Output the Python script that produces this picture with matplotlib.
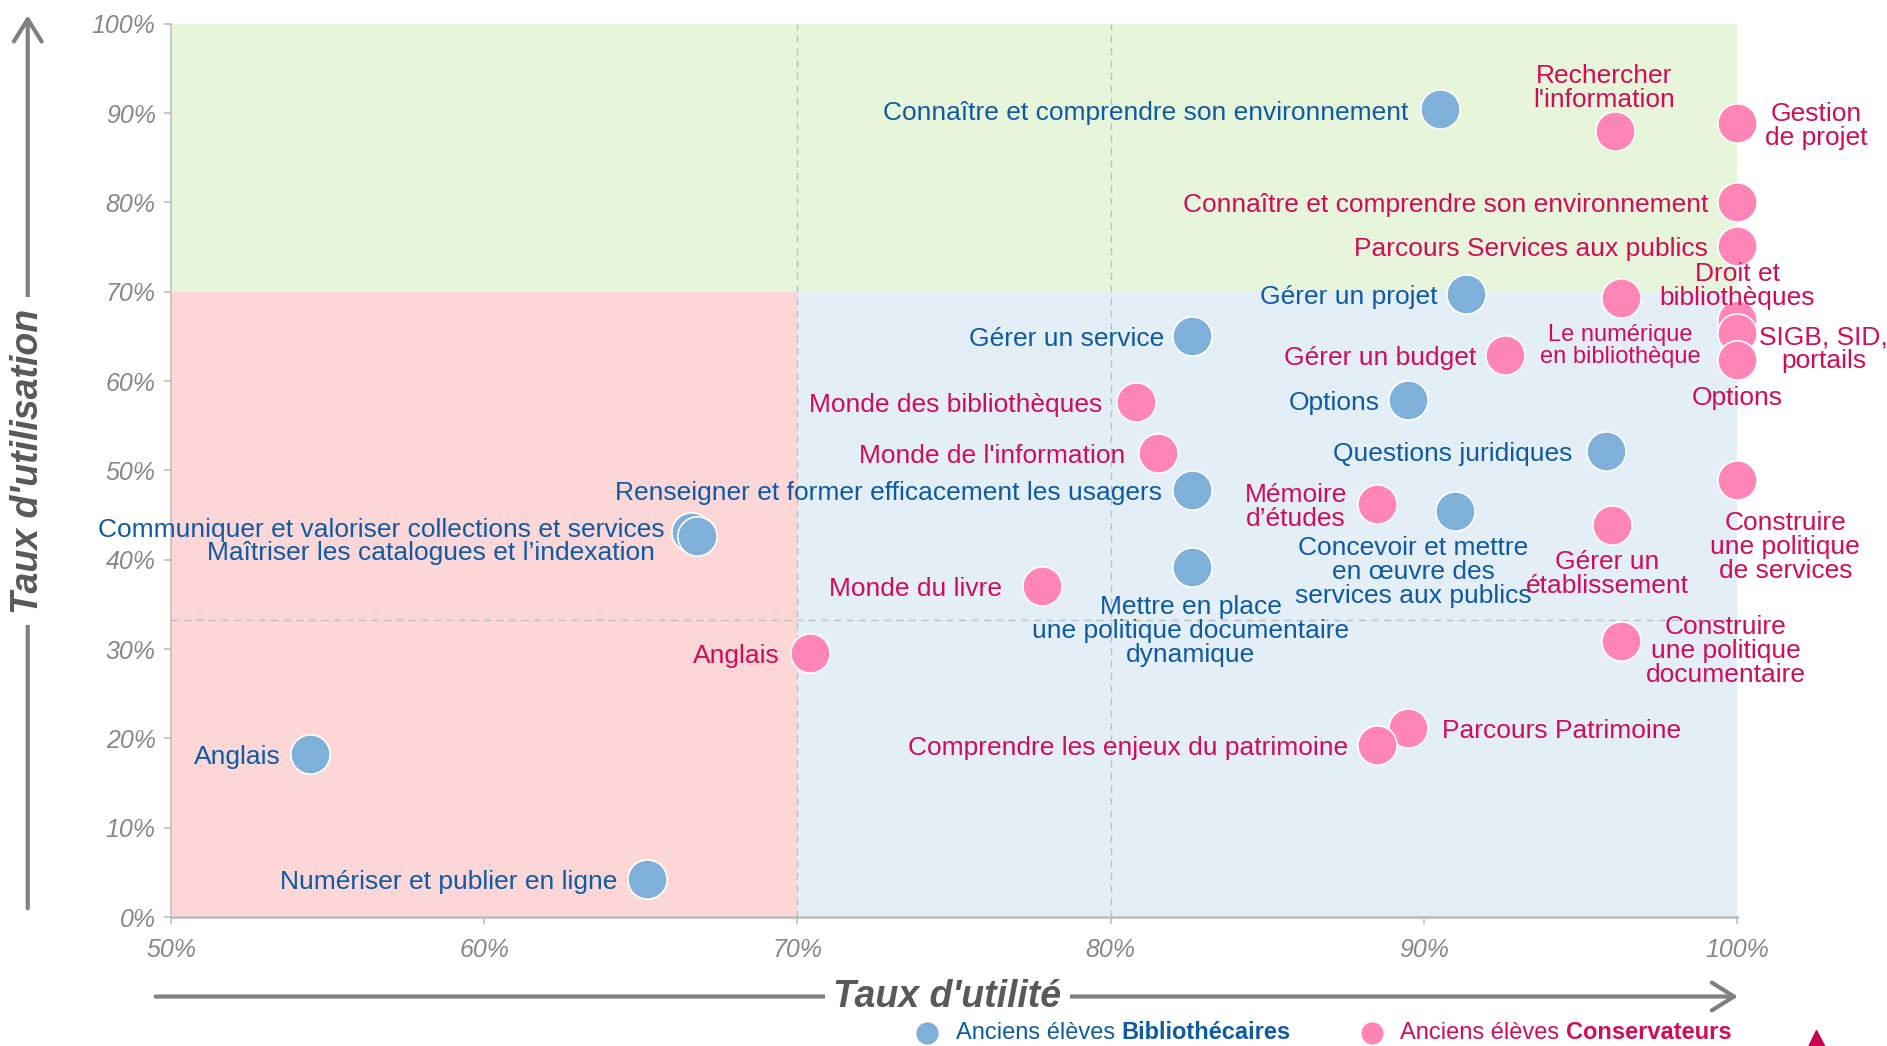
import matplotlib
matplotlib.use("Agg")
import matplotlib.pyplot as plt
from matplotlib.patches import Rectangle

plt.rcParams['font.family'] = ['Liberation Sans', 'DejaVu Sans']

# ---------------- data ----------------
blue_labels = [
    "Connaître et comprendre son environnement",
    "Gérer un projet",
    "Gérer un service",
    "Options",
    "Questions juridiques",
    "Renseigner et former efficacement les usagers",
    "Concevoir et mettre\nen œuvre des\nservices aux publics",
    "Mettre en place\nune politique documentaire\ndynamique",
    "Communiquer et valoriser collections et services",
    "Maîtriser les catalogues et l’indexation",
    "Anglais",
    "Numériser et publier en ligne",
]
blue_x = [90.5, 91.35, 82.6, 89.5, 95.8, 82.6, 91.0, 82.6, 66.6, 66.8, 54.45, 65.2]
blue_y = [90.4, 69.7, 65.1, 57.9, 52.2, 47.8, 45.4, 39.2, 43.1, 42.7, 18.2, 4.3]

pink_labels = [
    "Rechercher\nl'information",
    "Gestion\nde projet",
    "Connaître et comprendre son environnement",
    "Parcours Services aux publics",
    "Droit et\nbibliothèques",
    "SIGB, SID,\nportails",
    "Options",
    "Le numérique\nen bibliothèque",
    "Gérer un budget",
    "Monde des bibliothèques",
    "Monde de l'information",
    "Mémoire\nd’études",
    "Construire\nune politique\nde services",
    "Gérer un\nétablissement",
    "Monde du livre",
    "Anglais",
    "Construire\nune politique\ndocumentaire",
    "Parcours Patrimoine",
    "Comprendre les enjeux du patrimoine",
]
pink_x = [96.1, 100.0, 100.0, 100.0, 100.0, 100.0, 100.0, 96.3, 92.6, 80.8, 81.5,
          88.5, 100.0, 96.0, 77.8, 70.4, 96.3, 89.5, 88.5]
pink_y = [88.0, 88.9, 80.1, 75.1, 66.8, 65.4, 62.4, 69.3, 62.9, 57.7, 51.9,
          46.2, 48.9, 43.9, 37.1, 29.6, 30.9, 21.2, 19.3]

x_ticks = [50, 60, 70, 80, 90, 100]
y_ticks = [0, 10, 20, 30, 40, 50, 60, 70, 80, 90, 100]
utility_threshold = 70
usage_threshold = 70
extra_vline = 80
extra_hline = 33.3

x_title = "Taux d'utilité"
y_title = "Taux d'utilisation"
legend_prefix = "Anciens élèves "
legend_blue = "Bibliothécaires"
legend_pink = "Conservateurs"

# ---------------- layout / style ----------------
BLUE_M = "#7EB0D9"
PINK_M = "#FF85B6"
BLUE_T = "#0E5BA3"
PINK_T = "#D10D57"
GRAY = "#808080"

K = 0.8665  # reference px -> points
# (dx, dy, ha) in reference pixels
blue_off = [(-26, 0, 'right'), (-24, 0, 'right'), (-23, 0, 'right'), (-24, 0, 'right'),
            (-28, 0, 'right'), (-25, 0, 'right'), (-35, -48, 'center'), (-1, -51, 'center'),
            (-22, 4, 'right'), (-35, -12, 'right'), (-25, 0, 'right'), (-25, 0, 'right')]
pink_off = [(-9, 38, 'center'), (66, 0, 'center'), (-24, 0, 'right'), (-24, 0, 'right'),
            (0, 31, 'center'), (72, -11, 'center'), (0, -29, 'center'), (-1, -37, 'center'),
            (-24, 0, 'right'), (-28, 0, 'right'), (-27, 0, 'right'), (-25, 0, 'right'),
            (40, -53, 'center'), (-4, -38, 'center'), (-33, 0, 'right'), (-25, 0, 'right'),
            (87, -6, 'center'), (28, 0, 'left'), (-24, 0, 'right')]
TEXT_SHIFT = -2.5  # reference px, visual baseline correction

fig = plt.figure(figsize=(18.87, 10.46), dpi=100)
ax = fig.add_axes([0.0906, 0.1233, 0.830, 0.854])
ax.set_xlim(50, 100)
ax.set_ylim(0, 100)

# background quadrants
ax.add_patch(Rectangle((50, usage_threshold), 50, 100 - usage_threshold, color="#E7F5DA", zorder=0, lw=0))
ax.add_patch(Rectangle((50, 0), utility_threshold - 50, usage_threshold, color="#FDD7D8", zorder=0, lw=0))
ax.add_patch(Rectangle((utility_threshold, 0), 100 - utility_threshold, usage_threshold, color="#E4EEF7", zorder=0, lw=0))

for xv in (utility_threshold, extra_vline):
    ax.axvline(xv, color="#BFBFBF", lw=1, ls=(0, (5, 4)), zorder=1)
ax.axhline(extra_hline, color="#BFBFBF", lw=1, ls=(0, (5, 4)), zorder=1)

ax.scatter(blue_x, blue_y, s=800, c=BLUE_M, edgecolors="white", linewidths=1.2, zorder=3, clip_on=False)
ax.scatter(pink_x, pink_y, s=800, c=PINK_M, edgecolors="white", linewidths=1.2, zorder=3, clip_on=False)

def label(txt, x, y, off, color, fs=19):
    dx, dy, ha = off
    ax.annotate(txt, (x, y), xytext=(dx * K, (dy + TEXT_SHIFT) * K), textcoords='offset points',
                ha=ha, va='center', multialignment='center', color=color,
                fontsize=fs, linespacing=1.0, zorder=4, annotation_clip=False)

for t, x, y, o in zip(blue_labels, blue_x, blue_y, blue_off):
    label(t, x, y, o, BLUE_T)
for t, x, y, o in zip(pink_labels, pink_x, pink_y, pink_off):
    fs = 17 if t.startswith("Le numérique") else 19
    label(t, x, y, o, PINK_T, fs)

ax.set_xticks(x_ticks)
ax.set_yticks(y_ticks)
ax.set_xticklabels([f"{v}%" for v in x_ticks])
ax.set_yticklabels([f"{v}%" for v in y_ticks])
ax.tick_params(axis='both', colors="#BFBFBF", labelcolor="#888888", labelsize=18, length=5, width=1.2)
ax.tick_params(axis='x', pad=10)
ax.tick_params(axis='y', pad=6)
for lab in ax.get_xticklabels() + ax.get_yticklabels():
    lab.set_fontstyle('italic')
for s in ('top', 'right'):
    ax.spines[s].set_visible(False)
ax.spines['left'].set_color("#BFBFBF")
ax.spines['left'].set_linewidth(1.2)
ax.spines['bottom'].set_color("#BFBFBF")
ax.spines['bottom'].set_linewidth(2)
ax.set_facecolor("white")

# axis arrows and titles
arrow_kw = dict(arrowstyle='->,head_length=0.8,head_width=0.5', color=GRAY, lw=3)
fig.add_artist(matplotlib.patches.FancyArrowPatch((0.0147, 0.129), (0.0147, 0.988),
               transform=fig.transFigure, **arrow_kw, mutation_scale=20))
fig.text(0.0147, 0.559, y_title, rotation=90, ha='center', va='center', fontsize=27,
         fontweight='bold', fontstyle='italic', color="#595959",
         bbox=dict(facecolor='white', edgecolor='none', pad=8))
fig.add_artist(matplotlib.patches.FancyArrowPatch((0.081, 0.0473), (0.9225, 0.0473),
               transform=fig.transFigure, **arrow_kw, mutation_scale=20))
fig.text(0.502, 0.0473, x_title, ha='center', va='center', fontsize=27,
         fontweight='bold', fontstyle='italic', color="#595959",
         bbox=dict(facecolor='white', edgecolor='none', pad=(2, 8)[1] if False else 6))

# legend
fig.canvas.draw()
renderer = fig.canvas.get_renderer()
LEG_Y = 0.0125
def legend_item(xc, xt, mcolor, tcolor, bold):
    fig.add_artist(plt.Line2D([xc], [LEG_Y], marker='o', ms=15, color=mcolor, mec=mcolor,
                              transform=fig.transFigure, ls='none', zorder=10))
    t1 = fig.text(xt, LEG_Y, legend_prefix, ha='left', va='center', fontsize=17, color=tcolor, zorder=10)
    bb = t1.get_window_extent(renderer=renderer)
    x2 = bb.x1 / fig.bbox.width
    fig.text(x2, LEG_Y, bold, ha='left', va='center', fontsize=17, color=tcolor,
             fontweight='bold', zorder=10)

legend_item(0.491, 0.5065, BLUE_M, BLUE_T, legend_blue)
legend_item(0.727, 0.742, PINK_M, PINK_T, legend_pink)
fig.add_artist(plt.Line2D([0.9625], [0.004], marker='^', ms=18, color="#C8004F",
                          transform=fig.transFigure, ls='none', zorder=10))

fig.savefig("out.png", dpi=100, facecolor='white')
